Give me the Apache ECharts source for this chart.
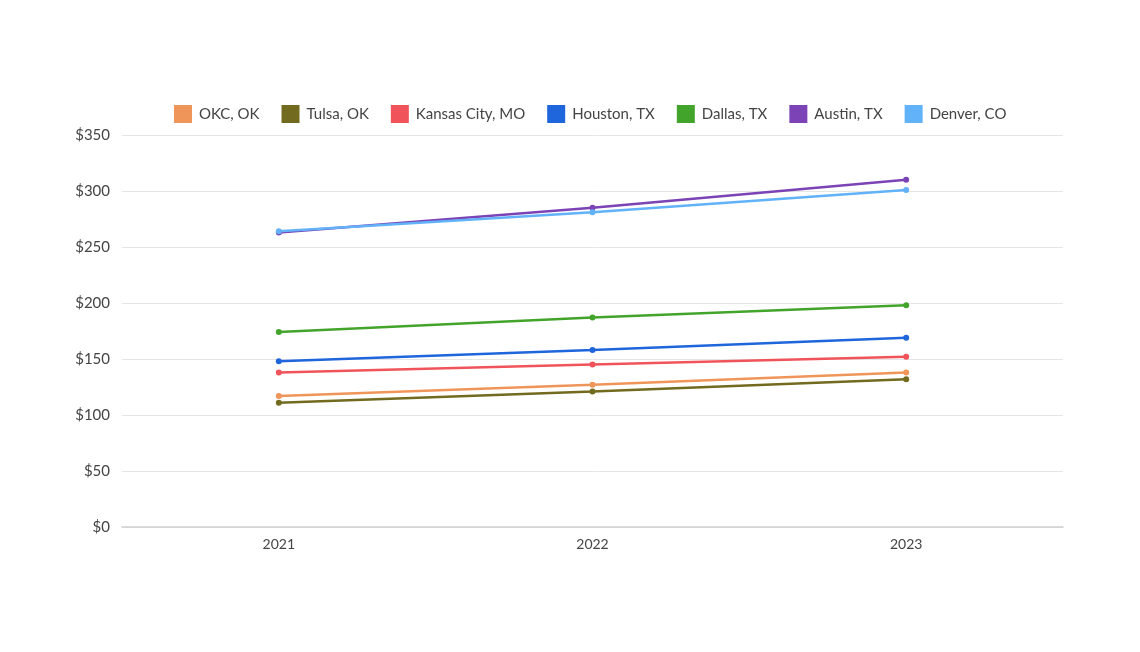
<!DOCTYPE html>
<html>
<head>
<meta charset="utf-8">
<script src="https://cdn.jsdelivr.net/npm/echarts@6/dist/echarts.min.js"></script>
<style>
  html, body { margin: 0; padding: 0; background: #fff; }
  #chart { width: 1140px; height: 652px; }
</style>
</head>
<body>
<div id="chart"></div>
<script>
// years on the x axis
var years = ['2021', '2022', '2023'];

// series (dollars)
var okc = [117, 127, 138];
var tulsa = [111, 121, 132];
var kansasCity = [138, 145, 152];
var houston = [148, 158, 169];
var dallas = [174, 187, 198];
var austin = [263, 285, 310];
var denver = [264, 281, 301];

var names = ['OKC, OK', 'Tulsa, OK', 'Kansas City, MO', 'Houston, TX', 'Dallas, TX', 'Austin, TX', 'Denver, CO'];
var values = [okc, tulsa, kansasCity, houston, dallas, austin, denver];
var colors = ['#f0955a', '#726a1e', '#f0545a', '#1f65dc', '#43a42c', '#7b43b5', '#62b2fa'];

var chart = echarts.init(document.getElementById('chart'));

var series = [];
for (var i = 0; i < names.length; i++) {
    series.push({
        name: names[i],
        type: 'line',
        data: values[i],
        symbol: 'circle',
        symbolSize: 6,
        lineStyle: { width: 2.5 },
        emphasis: { disabled: true }
    });
}

chart.setOption({
    color: colors,
    textStyle: { fontFamily: 'Lato' },
    animation: false,
    legend: {
        top: 100,
        left: 169,
        icon: 'rect',
        itemWidth: 18,
        itemHeight: 18,
        itemGap: 22,
        textStyle: { fontSize: 15, color: '#444', fontFamily: 'Lato', padding: [0, 0, 0, 2] },
        data: names
    },
    grid: {
        left: 122,
        right: 77,
        top: 135,
        bottom: 125
    },
    xAxis: {
        type: 'category',
        data: years,
        boundaryGap: true,
        axisLine: { lineStyle: { color: '#cfcfcf', width: 1.5 } },
        axisTick: { show: false },
        axisLabel: { fontSize: 14, color: '#444', margin: 10 }
    },
    yAxis: {
        type: 'value',
        min: 0,
        max: 350,
        interval: 50,
        axisLine: { show: false },
        axisTick: { show: false },
        axisLabel: { fontSize: 15, color: '#444', margin: 12, formatter: '${value}' },
        splitLine: { lineStyle: { color: '#e6e6e6' } }
    },
    series: series
});
</script>
</body>
</html>
